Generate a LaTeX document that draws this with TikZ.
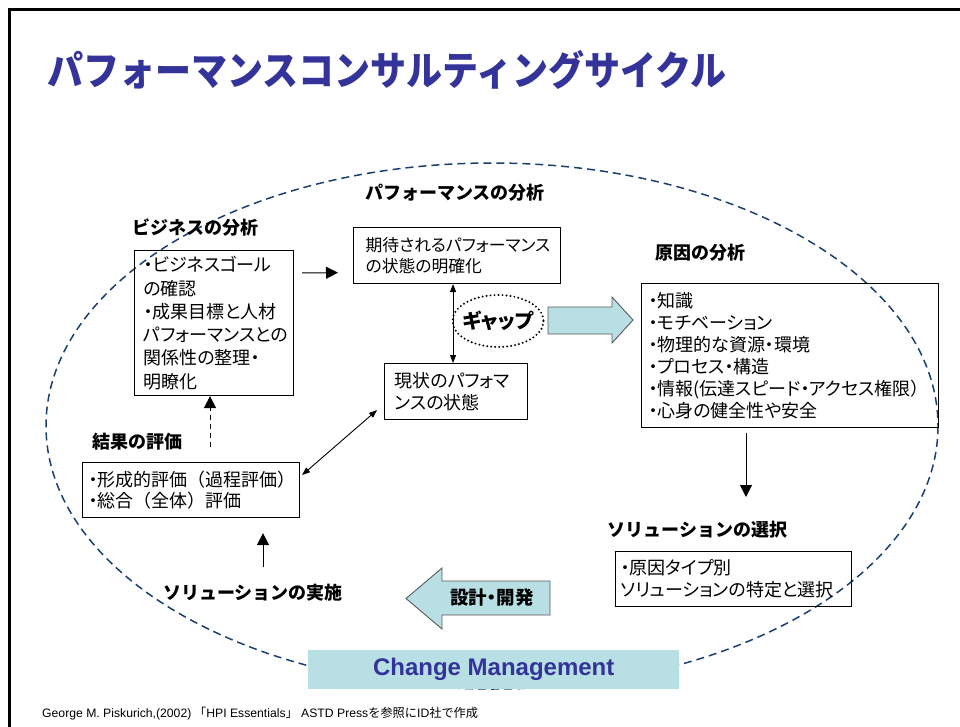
\documentclass[tikz,border=0pt]{standalone}
\usepackage{fontspec}
\usepackage{graphicx}
\usetikzlibrary{arrows.meta,shapes.geometric}
\setmainfont{Noto Sans CJK JP}
\newfontfamily\jp{Noto Sans CJK JP}[RawFeature={+palt}]
\newfontfamily\lib{Liberation Sans}
\newcommand{\fwl}{{\rmfamily （}}
\newcommand{\fwr}{{\rmfamily ）}}
\definecolor{ttl}{HTML}{333399}
\definecolor{lb}{HTML}{B8DFE3}
\definecolor{navy}{HTML}{1B3F6E}
\tikzset{
  txtbox/.style={draw, line width=1.1pt, anchor=north west, align=left, inner ysep=0pt,
    font=\jp\fontsize{18}{23.3}\selectfont},
  lbl/.style={font=\bfseries\fontsize{18}{20}\selectfont, inner sep=0pt},
  arr/.style={-{Triangle[length=12pt,width=12pt]}, line width=1pt},
  dbl/.style={{Triangle[length=8pt,width=6pt]}-{Triangle[length=8pt,width=6pt]}, line width=0.9pt},
  blk/.style={fill=lb, draw=black!65, line width=0.9pt, line join=miter},
}
\begin{document}
\begin{tikzpicture}[x=1pt,y=-1pt]
\useasboundingbox (0,0) rectangle (960,727);
% frame
\draw[line width=3pt] (9,727) -- (9,10) -- (960,10);
% title
\node[anchor=west, inner sep=0pt, text=ttl] (title) at (47,70)
  {\scalebox{0.9}[1]{\bfseries\fontsize{40}{44}\selectfont パフォーマンスコンサルティングサイクル}};
% cycle ellipse
\draw[navy, line width=1.5pt, dash pattern=on 8pt off 5pt] (492,426) ellipse [x radius=446, y radius=263];
% labels
\node[lbl] (lperf) at (455,193) {パフォーマンスの分析};
\node[lbl] (lbiz) at (195.5,228) {ビジネスの分析};
\node[lbl] (lcause) at (700,253) {原因の分析};
\node[lbl] (lsol) at (697.5,530) {ソリューションの選択};
\node[lbl] (lres) at (137.5,442) {結果の評価};
\node[lbl] (limpl) at (253,593) {ソリューションの実施};
% boxes
\node[txtbox, minimum width=159pt, minimum height=145pt, inner xsep=9pt, text width=141pt] (biz) at (134,250)
  {・ビジネスゴール\\の確認\\・成果目標と人材\\パフォーマンスとの\\関係性の整理・\\明瞭化};
\node[txtbox, minimum width=207pt, minimum height=56pt, inner xsep=12pt, text width=183pt,
  font=\jp\fontsize{16.8}{21}\selectfont] (exp) at (353,227)
  {期待されるパフォーマンス\\の状態の明確化};
\node[txtbox, minimum width=143pt, minimum height=56pt, inner xsep=10pt, text width=123pt,
  font=\jp\fontsize{18}{22}\selectfont] (cur) at (384,363)
  {現状のパフォマ\\ンスの状態};
\node[txtbox, minimum width=297pt, minimum height=144pt, inner xsep=7pt, text width=283pt,
  font=\jp\fontsize{18}{22}\selectfont] (cause) at (641,283)
  {・知識\\・モチベーション\\・物理的な資源・環境\\・プロセス・構造\\・情報(伝達スピード・アクセス権限\fwr\\・心身の健全性や安全};
\node[txtbox, minimum width=217pt, minimum height=55pt, inner xsep=6pt, text width=205pt,
  font=\jp\fontsize{18}{21}\selectfont] (res) at (82,462)
  {・形成的評価\fwl 過程評価\fwr\\・総合\fwl 全体\fwr 評価};
\node[txtbox, minimum width=236pt, minimum height=55pt, inner xsep=5pt, text width=226pt,
  font=\jp\fontsize{18}{22}\selectfont] (sol) at (615,551)
  {・原因タイプ別\\ソリューションの特定と選択};
% gap
\node[inner sep=0pt, font=\jp\bfseries\fontsize{20}{22}\selectfont] (gap) at (498,321) {ギャップ};
\draw[line width=2.2pt, line cap=round, dash pattern=on 0pt off 4pt] (gap.center) ellipse [x radius=45.5, y radius=26];
% block arrows
\draw[blk] (548,307) -- (612,307) -- (612,297) -- (633,320) -- (612,343) -- (612,334) -- (548,334) -- cycle;
\draw[blk] (550,581) -- (442,581) -- (442,568) -- (406,598.5) -- (442,629) -- (442,615) -- (550,615) -- cycle;
\node[font=\jp\bfseries\fontsize{18.5}{20}\selectfont, inner sep=0pt] (design) at (492,598) {設計・開発};
% connectors
\draw[arr, shorten <=8pt, shorten >=15pt] ([yshift=-23pt]biz.north east) -- ([yshift=-17pt]exp.west);
\draw[dbl] ([xshift=-4pt]exp.south) -- ([xshift=-4pt]exp.south |- cur.north);
\draw[dbl] ([shift={(-7pt,10pt)}]cur.south west) -- ([shift={(2pt,15pt)}]res.east);
\coordinate (dstart) at (210,447);
\draw[arr, dash pattern=on 5pt off 4pt] (dstart) -- (dstart |- biz.south);
\coordinate (ustart) at (263,567);
\draw[arr, shorten >=15pt] (ustart) -- (ustart |- res.south);
\coordinate (dend) at (746,497);
\draw[arr, shorten <=5pt] (dend |- cause.south) -- (dend);
% change management
\node[fill=lb, anchor=north west, minimum width=371pt, minimum height=39pt, inner sep=0pt,
  text=ttl, font=\lib\bfseries\fontsize{24}{28}\selectfont] (cm) at (308,650) {Change Management};
% footnote
\node[anchor=west, inner sep=0pt, font=\fontsize{12.2}{14}\selectfont] (foot) at (42,714)
  {{\lib George M. Piskurich,(2002)}\ 「{\lib HPI Essentials}」{\lib\ ASTD Press}を参照に{\lib ID}社で作成};
\end{tikzpicture}
\end{document}
